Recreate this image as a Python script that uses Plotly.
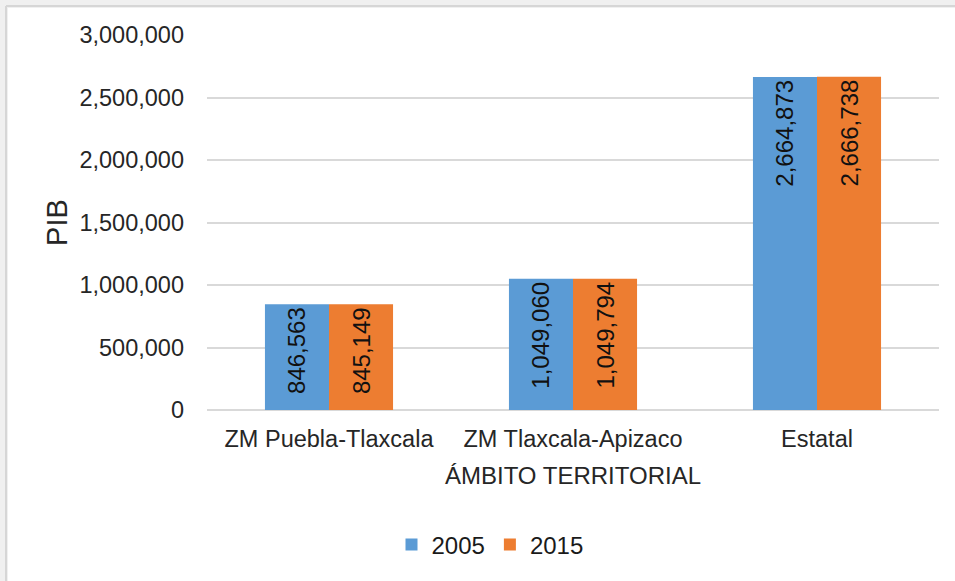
import plotly.graph_objects as go

categories = ["ZM Puebla-Tlaxcala", "ZM Tlaxcala-Apizaco", "Estatal"]
series_names = ["2005", "2015"]
values_2005 = [846563, 1049060, 2664873]
values_2015 = [845149, 1049794, 2666738]
y_ticks = [0, 500000, 1000000, 1500000, 2000000, 2500000, 3000000]
y_tick_labels = ["0", "500,000", "1,000,000", "1,500,000", "2,000,000", "2,500,000", "3,000,000"]

colors = ["#5B9BD5", "#ED7D31"]
FONT = "Liberation Sans, Arial, sans-serif"

W, H = 955, 581
L, R, T, B = 207, 16, 35, 171
pw, ph = W - L - R, H - T - B

def px_x(p):
    return (p - L) / pw

def px_y(p):
    return (H - B - p) / ph

fig = go.Figure()
for name, vals, col in zip(series_names, [values_2005, values_2015], colors):
    fig.add_trace(go.Bar(
        name=name, x=categories, y=vals,
        marker=dict(color=col, line=dict(width=0)),
        texttemplate="%{y:,}", textposition="inside", insidetextanchor="end",
        textangle=-90, constraintext="none",
        textfont=dict(family=FONT, size=24, color="#111111"),
    ))

fig.update_layout(
    width=W, height=H,
    margin=dict(l=L, r=R, t=T, b=B, autoexpand=False),
    paper_bgcolor="white", plot_bgcolor="white",
    barmode="group", bargap=0.475, bargroupgap=0,
    font=dict(family=FONT, size=23, color="#262626"),
    showlegend=True,
    legend=dict(orientation="h", x=px_x(490), xanchor="center", y=px_y(545), yanchor="middle",
                font=dict(size=24, color="#1a1a1a"), itemwidth=30, traceorder="normal"),
    xaxis=dict(showgrid=False, showline=False, zeroline=False,
               tickfont=dict(size=23.5, color="#262626"), ticks="", ticklabelstandoff=12,
               title=dict(text="ÁMBITO TERRITORIAL", font=dict(size=24, color="#262626"), standoff=16)),
    yaxis=dict(range=[0, 3000000], tickvals=y_ticks, ticktext=y_tick_labels,
               showgrid=True, gridcolor="#D9D9D9", gridwidth=2,
               zeroline=True, zerolinecolor="#D9D9D9", zerolinewidth=2,
               showline=False, ticks="", ticklabelstandoff=22,
               tickfont=dict(size=23.5, color="#262626"),
               title=dict(text="PIB", font=dict(size=29, color="#262626"), standoff=3)),
    shapes=[
        dict(type="rect", xref="paper", yref="paper", x0=px_x(0), x1=px_x(8), y0=px_y(H), y1=px_y(2),
             fillcolor="#F0F0F0", line=dict(width=0), layer="below"),
        dict(type="rect", xref="paper", yref="paper", x0=px_x(0), x1=px_x(W), y0=px_y(8), y1=px_y(0),
             fillcolor="#F0F0F0", line=dict(width=0), layer="below"),
        dict(type="line", xref="paper", yref="paper", x0=px_x(6), x1=px_x(6), y0=px_y(H), y1=px_y(6),
             line=dict(color="#D6D6D6", width=2)),
        dict(type="line", xref="paper", yref="paper", x0=px_x(6), x1=px_x(W), y0=px_y(6), y1=px_y(6),
             line=dict(color="#D6D6D6", width=2)),
    ],
)

fig.write_html("out.html", config={"displayModeBar": False},
               post_script="document.body.style.margin='0';")
